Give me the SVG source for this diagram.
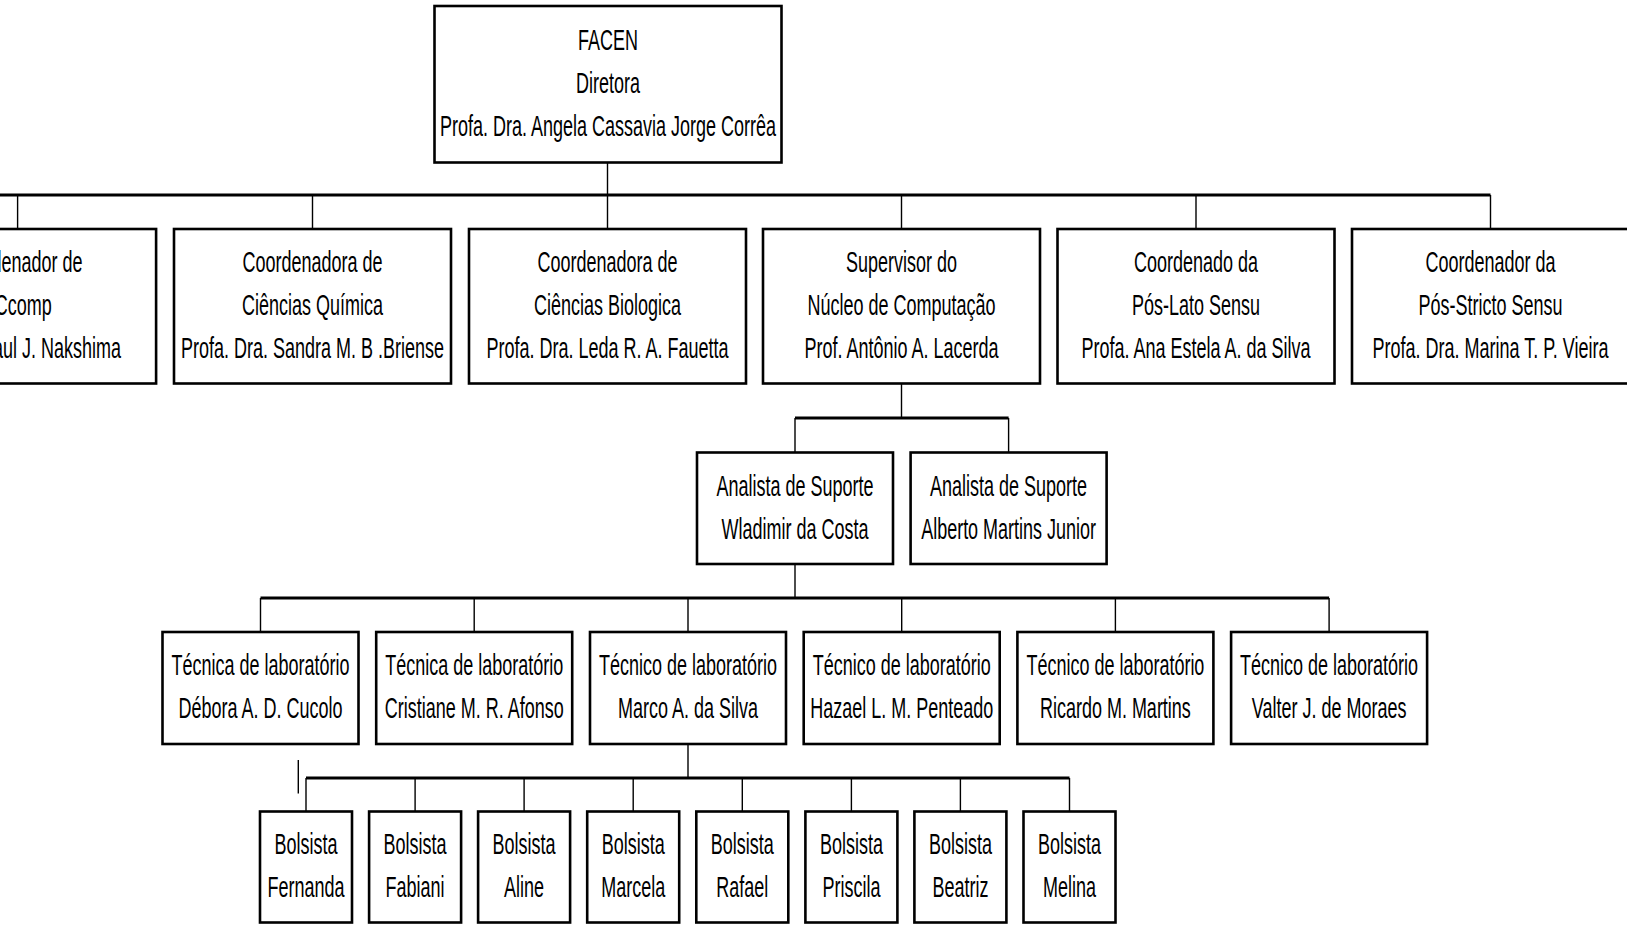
<svg xmlns="http://www.w3.org/2000/svg" width="1627" height="925" viewBox="0 0 1627 925">
  <style>
    .box { fill: #ffffff; stroke: #000000; stroke-width: 2.6; }
    .wire { fill: none; stroke: #000000; stroke-width: 1.4; }
    .bus { fill: none; stroke: #000000; stroke-width: 3.2; }
    text { font-family: "Liberation Sans", Arial, Helvetica, sans-serif; font-size: 30px; fill: #000000; text-anchor: middle; }
    text.end { text-anchor: end; }
  </style>
  <rect width="1627" height="925" fill="#ffffff"/>

  <!-- connectors -->
  <g id="connectors">
    <path class="wire" d="M607.5 162.5 V195"/>
    <path class="bus" d="M-5 195 H1490.5"/>
    <path class="wire" d="M17.6 195 V229 M312.5 195 V229 M607.5 195 V229 M901.5 195 V229 M1196 195 V229 M1490.5 195 V229"/>

    <path class="wire" d="M901.5 383.5 V418"/>
    <path class="bus" d="M795 418 H1008.6"/>
    <path class="wire" d="M795 418 V452.5 M1008.6 418 V452.5"/>

    <path class="wire" d="M795 564 V598"/>
    <path class="bus" d="M260.5 598 H1329.1"/>
    <path class="wire" d="M260.5 598 V632 M474.2 598 V632 M688 598 V632 M901.7 598 V632 M1115.4 598 V632 M1329.1 598 V632"/>

    <path class="wire" d="M688 744 V778"/>
    <path class="bus" d="M306 778 H1069.5"/>
    <path class="wire" d="M306 778 V811.5 M415.1 778 V811.5 M524.1 778 V811.5 M633.2 778 V811.5 M742.3 778 V811.5 M851.4 778 V811.5 M960.4 778 V811.5 M1069.5 778 V811.5"/>
    <path class="wire" d="M298.3 760 V793.5"/>
  </g>

  <!-- director -->
  <g id="n-facen">
    <rect class="box" x="434.5" y="6" width="347" height="156.5"/>
    <text transform="translate(608 50) scale(0.6 1)">FACEN</text>
    <text transform="translate(608 93) scale(0.6 1)">Diretora</text>
    <text transform="translate(608 136) scale(0.6 1)">Profa. Dra. Angela Cassavia Jorge Corrêa</text>
  </g>

  <!-- coordinators -->
  <g id="n-coord-ccomp">
    <rect class="box" x="-120.9" y="229" width="277" height="154.5"/>
    <text transform="translate(17.6 272) scale(0.6 1)">Coordenador de</text>
    <text class="end" transform="translate(51.7 315) scale(0.6 1)">Ccomp</text>
    <text class="end" transform="translate(121 358) scale(0.6 1)">aul J. Nakshima</text>
  </g>
  <g id="n-coord-quimica">
    <rect class="box" x="174" y="229" width="277" height="154.5"/>
    <text transform="translate(312.5 272) scale(0.6 1)">Coordenadora de</text>
    <text transform="translate(312.5 315) scale(0.6 1)">Ciências Química</text>
    <text transform="translate(312.5 358) scale(0.6 1)">Profa. Dra. Sandra M. B .Briense</text>
  </g>
  <g id="n-coord-biologia">
    <rect class="box" x="469" y="229" width="277" height="154.5"/>
    <text transform="translate(607.5 272) scale(0.6 1)">Coordenadora de</text>
    <text transform="translate(607.5 315) scale(0.6 1)">Ciências Biologica</text>
    <text transform="translate(607.5 358) scale(0.6 1)">Profa. Dra. Leda R. A. Fauetta</text>
  </g>
  <g id="n-supervisor">
    <rect class="box" x="763" y="229" width="277" height="154.5"/>
    <text transform="translate(901.5 272) scale(0.6 1)">Supervisor do</text>
    <text transform="translate(901.5 315) scale(0.6 1)">Núcleo de Computação</text>
    <text transform="translate(901.5 358) scale(0.6 1)">Prof. Antônio A. Lacerda</text>
  </g>
  <g id="n-lato">
    <rect class="box" x="1057.5" y="229" width="277" height="154.5"/>
    <text transform="translate(1196 272) scale(0.6 1)">Coordenado da</text>
    <text transform="translate(1196 315) scale(0.6 1)">Pós-Lato Sensu</text>
    <text transform="translate(1196 358) scale(0.6 1)">Profa. Ana Estela A. da Silva</text>
  </g>
  <g id="n-stricto">
    <rect class="box" x="1352" y="229" width="277" height="154.5"/>
    <text transform="translate(1490.5 272) scale(0.6 1)">Coordenador da</text>
    <text transform="translate(1490.5 315) scale(0.6 1)">Pós-Stricto Sensu</text>
    <text transform="translate(1490.5 358) scale(0.6 1)">Profa. Dra. Marina T. P. Vieira</text>
  </g>

  <!-- support analysts -->
  <g id="n-analista-wladimir">
    <rect class="box" x="697" y="452.5" width="196" height="111.5"/>
    <text transform="translate(795 495.5) scale(0.6 1)">Analista de Suporte</text>
    <text transform="translate(795 538.5) scale(0.6 1)">Wladimir da Costa</text>
  </g>
  <g id="n-analista-alberto">
    <rect class="box" x="910.6" y="452.5" width="196" height="111.5"/>
    <text transform="translate(1008.6 495.5) scale(0.6 1)">Analista de Suporte</text>
    <text transform="translate(1008.6 538.5) scale(0.6 1)">Alberto Martins Junior</text>
  </g>

  <!-- lab technicians -->
  <g id="n-tec-debora">
    <rect class="box" x="162.5" y="632" width="196" height="112"/>
    <text transform="translate(260.5 675) scale(0.6 1)">Técnica de laboratório</text>
    <text transform="translate(260.5 718) scale(0.6 1)">Débora A. D. Cucolo</text>
  </g>
  <g id="n-tec-cristiane">
    <rect class="box" x="376.2" y="632" width="196" height="112"/>
    <text transform="translate(474.2 675) scale(0.6 1)">Técnica de laboratório</text>
    <text transform="translate(474.2 718) scale(0.6 1)">Cristiane M. R. Afonso</text>
  </g>
  <g id="n-tec-marco">
    <rect class="box" x="590" y="632" width="196" height="112"/>
    <text transform="translate(688 675) scale(0.6 1)">Técnico de laboratório</text>
    <text transform="translate(688 718) scale(0.6 1)">Marco A. da Silva</text>
  </g>
  <g id="n-tec-hazael">
    <rect class="box" x="803.7" y="632" width="196" height="112"/>
    <text transform="translate(901.7 675) scale(0.6 1)">Técnico de laboratório</text>
    <text transform="translate(901.7 718) scale(0.6 1)">Hazael L. M. Penteado</text>
  </g>
  <g id="n-tec-ricardo">
    <rect class="box" x="1017.4" y="632" width="196" height="112"/>
    <text transform="translate(1115.4 675) scale(0.6 1)">Técnico de laboratório</text>
    <text transform="translate(1115.4 718) scale(0.6 1)">Ricardo M. Martins</text>
  </g>
  <g id="n-tec-valter">
    <rect class="box" x="1231.1" y="632" width="196" height="112"/>
    <text transform="translate(1329.1 675) scale(0.6 1)">Técnico de laboratório</text>
    <text transform="translate(1329.1 718) scale(0.6 1)">Valter J. de Moraes</text>
  </g>

  <!-- scholarship students -->
  <g id="n-bolsista-fernanda">
    <rect class="box" x="260" y="811.5" width="92" height="111"/>
    <text transform="translate(306 854) scale(0.6 1)">Bolsista</text>
    <text transform="translate(306 897) scale(0.6 1)">Fernanda</text>
  </g>
  <g id="n-bolsista-fabiani">
    <rect class="box" x="369.1" y="811.5" width="92" height="111"/>
    <text transform="translate(415.1 854) scale(0.6 1)">Bolsista</text>
    <text transform="translate(415.1 897) scale(0.6 1)">Fabiani</text>
  </g>
  <g id="n-bolsista-aline">
    <rect class="box" x="478.1" y="811.5" width="92" height="111"/>
    <text transform="translate(524.1 854) scale(0.6 1)">Bolsista</text>
    <text transform="translate(524.1 897) scale(0.6 1)">Aline</text>
  </g>
  <g id="n-bolsista-marcela">
    <rect class="box" x="587.2" y="811.5" width="92" height="111"/>
    <text transform="translate(633.2 854) scale(0.6 1)">Bolsista</text>
    <text transform="translate(633.2 897) scale(0.6 1)">Marcela</text>
  </g>
  <g id="n-bolsista-rafael">
    <rect class="box" x="696.3" y="811.5" width="92" height="111"/>
    <text transform="translate(742.3 854) scale(0.6 1)">Bolsista</text>
    <text transform="translate(742.3 897) scale(0.6 1)">Rafael</text>
  </g>
  <g id="n-bolsista-priscila">
    <rect class="box" x="805.4" y="811.5" width="92" height="111"/>
    <text transform="translate(851.4 854) scale(0.6 1)">Bolsista</text>
    <text transform="translate(851.4 897) scale(0.6 1)">Priscila</text>
  </g>
  <g id="n-bolsista-beatriz">
    <rect class="box" x="914.4" y="811.5" width="92" height="111"/>
    <text transform="translate(960.4 854) scale(0.6 1)">Bolsista</text>
    <text transform="translate(960.4 897) scale(0.6 1)">Beatriz</text>
  </g>
  <g id="n-bolsista-melina">
    <rect class="box" x="1023.5" y="811.5" width="92" height="111"/>
    <text transform="translate(1069.5 854) scale(0.6 1)">Bolsista</text>
    <text transform="translate(1069.5 897) scale(0.6 1)">Melina</text>
  </g>
</svg>
